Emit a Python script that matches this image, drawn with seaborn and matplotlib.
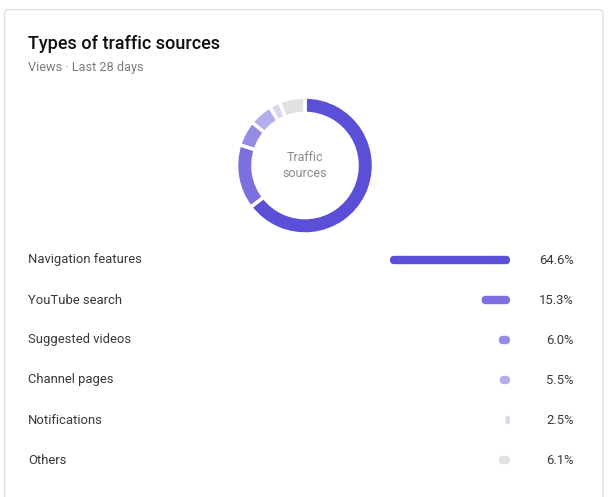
import matplotlib
matplotlib.use("Agg")
import matplotlib.pyplot as plt
from matplotlib.patches import FancyBboxPatch
import seaborn as sns
import pandas as pd

categories = ["Navigation features", "YouTube search", "Suggested videos",
              "Channel pages", "Notifications", "Others"]
values = [64.6, 15.3, 6.0, 5.5, 2.5, 6.1]
value_labels = ["64.6%", "15.3%", "6.0%", "5.5%", "2.5%", "6.1%"]
colors = ["#5a4fd6", "#7a70de", "#948be4", "#b4aeeb", "#d9d6f4", "#e1e1e1"]

title = "Types of traffic sources"
subtitle = "Views · Last 28 days"
center_text = "Traffic\nsources"

sns.set_theme(style="white")
plt.rcParams['font.family'] = ['Roboto', 'DejaVu Sans']

W, H = 610, 497
fig = plt.figure(figsize=(W / 100, H / 100), dpi=100)
fig.patch.set_facecolor("white")


def fx(px):
    return px / W


def fy(py):
    return 1 - py / H


# card
card = FancyBboxPatch((fx(4.5), fy(505)), fx(603) - fx(4.5), fy(9.5) - fy(505),
                      boxstyle="round,pad=0,rounding_size=0.008",
                      transform=fig.transFigure, facecolor="white",
                      edgecolor="#dedede", linewidth=1.0, zorder=-5)
fig.patches.append(card)

fig.text(fx(28), fy(44), title, fontsize=13, fontweight="medium", color="#0f0f0f",
         ha="left", va="center")
fig.text(fx(28), fy(68), subtitle, fontsize=9.2, color="#7c7c7c",
         ha="left", va="center")

# donut
cx, cy, r = 305, 165.5, 68.5
ax_pie = fig.add_axes([fx(cx - r), fy(cy + r), fx(2 * r), fy(cy - r) - fy(cy + r)])
ax_pie.patch.set_alpha(0)
ax_pie.pie(values, colors=colors, startangle=90, counterclock=False,
           wedgeprops=dict(width=0.24, edgecolor="white", linewidth=2.5))
ax_pie.set_xlim(-1.0, 1.0)
ax_pie.set_ylim(-1.0, 1.0)
ax_pie.axis("off")
ax_pie.text(0, 0, center_text, ha="center", va="center", fontsize=9,
            color="#8a8a8a", linespacing=1.35)

# bars
df = pd.DataFrame({"category": categories, "value": values})
bx0, bx1, by0, by1 = 390, 510, 240, 480
ax_bar = fig.add_axes([fx(bx0), fy(by1), fx(bx1) - fx(bx0), fy(by0) - fy(by1)])
ax_bar.patch.set_alpha(0)
sns.barplot(data=df, y="category", x="value", hue="category", palette=colors,
            legend=False, orient="h", width=0.21, saturation=1, ax=ax_bar)
ax_bar.set_xlim(max(values), 0)
ax_bar.set_ylim(5.5, -0.5)
ax_bar.axis("off")

fig.canvas.draw()
inv = fig.transFigure.inverted()
for p in list(ax_bar.patches):
    bb = p.get_window_extent()
    (x0, y0), (x1, y1) = inv.transform([[bb.x0, bb.y0], [bb.x1, bb.y1]])
    rad_px = min(bb.height, bb.width) / 2
    rp = FancyBboxPatch((x0, y0), x1 - x0, y1 - y0,
                        boxstyle="round,pad=0,rounding_size=%f" % (rad_px / W),
                        mutation_aspect=W / H,
                        transform=fig.transFigure, facecolor=p.get_facecolor(),
                        edgecolor="none", linewidth=0, zorder=3)
    fig.patches.append(rp)
    p.set_visible(False)

# row labels and value labels
for i, (c, lab) in enumerate(zip(categories, value_labels)):
    yy = 260 + 40 * i
    fig.text(fx(28), fy(yy), c, fontsize=9.4, color="#383838",
             ha="left", va="center")
    fig.text(fx(574), fy(yy), lab, fontsize=9.4, color="#383838",
             ha="right", va="center")

fig.savefig("out.png", dpi=100, facecolor="white")
